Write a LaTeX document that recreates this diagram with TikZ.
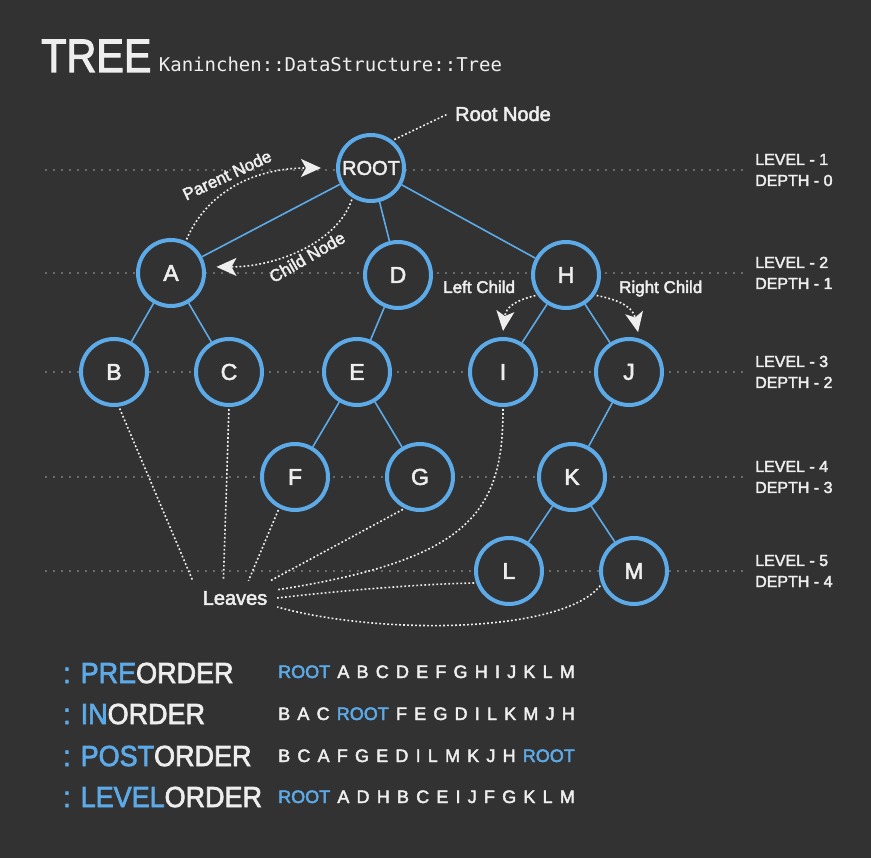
\documentclass[tikz,border=0pt]{standalone}
\usepackage{fontspec}
\setmainfont{Liberation Sans}[FakeBold=2.5]
\newfontfamily\codefont{DejaVu Sans Mono}
\usetikzlibrary{positioning, arrows.meta, calc}

\definecolor{board}{HTML}{323232}
\definecolor{treeblue}{HTML}{5DAAE8}
\definecolor{chalk}{HTML}{EEEEEE}
\definecolor{guide}{HTML}{6A6A6A}

\newcommand{\wordgap}{\spaceskip=7.2pt plus 0pt minus 0pt\relax}
\newcommand{\ordertitle}[1]{\scalebox{0.93}[1]{\textcolor{treeblue}{: #1}ORDER}}

\begin{document}
\begin{tikzpicture}[
    x=1pt, y=-1pt,
    % ── node styles ─────────────────────────────────────────
    vertex/.style = { circle, draw=treeblue, line width=4pt, fill=board,
            minimum size=66pt, inner sep=0pt, text=chalk,
            font=\fontsize{23}{24}\selectfont, },
    tag/.style = {text=chalk, inner sep=0pt, font=\fontsize{17}{20}\selectfont},
    levelinfo/.style = {text=chalk, inner sep=0pt, anchor=base west,
            font=\fontsize{16}{18}\selectfont},
    ordername/.style = {text=chalk, inner sep=0pt, anchor=base west,
            font=\fontsize{29}{30}\selectfont},
    orderseq/.style = {text=chalk, inner sep=0pt, anchor=base west,
            font=\fontsize{18}{20}\selectfont},
    % ── line styles ─────────────────────────────────────────
    branch/.style = {draw=treeblue, line width=1.6pt},
    hint/.style = {draw=chalk, line width=1.6pt, dash pattern=on 1.8pt off 2.2pt,
            shorten <=2pt},
    pointer/.style = {hint, -{Stealth[length=20pt, width=18pt, inset=5pt]}},
    levelline/.style = {draw=guide, line width=1.6pt, dash pattern=on 1.6pt off 6.4pt},
    ]

    \fill[board] (0,0) rectangle (871,858);
    \useasboundingbox (0,0) rectangle (871,858);

    % ============================================================
    % TITLE
    % ============================================================
    \node[text=chalk, inner sep=0pt, anchor=base west,
        font=\fontsize{47}{50}\selectfont]
    (title) at (41,72) {\scalebox{0.88}[1]{TREE}};
    \node[text=chalk, inner sep=0pt, right=7pt of title.base east, anchor=base west,
        font=\codefont\fontsize{19}{22}\selectfont]
    (subtitle) {Kaninchen::DataStructure::Tree};

    % ============================================================
    % LEVEL / DEPTH GUIDES
    % ============================================================
    \foreach \ly [count=\i] in {170,273,372,477,571} {
        \pgfmathtruncatemacro{\d}{\i-1}
        \draw[levelline] (45,\ly) -- (745,\ly);
        \node[levelinfo] (level-\i) at (755,\ly-5) {LEVEL - \i};
        \node[levelinfo] (depth-\i) at (755,\ly+16) {DEPTH - \d};
    }

    % ============================================================
    % TREE NODES
    % ============================================================
    \node[vertex, font=\fontsize{20}{22}\selectfont] (root) at (371,168) {ROOT};

    \node[vertex] (a) at (171,273) {A};
    \node[vertex] (d) at (398,275) {D};
    \node[vertex] (h) at (566,275) {H};

    \node[vertex] (b) at (114,372) {B};
    \node[vertex] (c) at (229,372) {C};
    \node[vertex] (e) at (357,372) {E};
    \node[vertex] (i) at (503,372) {I};
    \node[vertex] (j) at (629,372) {J};

    \node[vertex] (f) at (295,477) {F};
    \node[vertex] (g) at (420,477) {G};
    \node[vertex] (k) at (572,477) {K};

    \node[vertex] (l) at (509,571) {L};
    \node[vertex] (m) at (634,571) {M};

    \foreach \p/\c in {root/a, root/d, root/h, a/b, a/c, d/e, e/f, e/g,
            h/i, h/j, j/k, k/l, k/m}
    \draw[branch] (\p) -- (\c);

    % ============================================================
    % ANNOTATIONS
    % ============================================================
    \node[tag, inner xsep=7pt, anchor=base west, font=\fontsize{20}{22}\selectfont]
    (root-note) at (448,121) {Root Node};
    \draw[hint] (root.52) -- (root-note.west);

    % parent / child
    \draw[pointer]
    (a.65) .. controls +(20,-47) and +(-70,0) .. ([xshift=-15pt]root.west);
    \node[tag, rotate=25] (parent-tag) at (227,175) {Parent Node};

    \draw[pointer]
    (root.238) .. controls +(-15,45) and +(60,0) .. ([xshift=11pt]a.10);
    \node[tag, rotate=30] (child-tag) at (307,257) {Child Node};

    % left / right child
    \draw[pointer]
    (h.215) .. controls +(-20,5) and +(3,-25) .. ([yshift=6pt]i.north);
    \node[tag, anchor=base west] (left-tag) at (443,293) {Left Child};

    \draw[pointer]
    (h.-35) .. controls +(25,5) and +(-5,-25) .. ([yshift=6pt]j.75);
    \node[tag, anchor=base west] (right-tag) at (619,293) {Right Child};

    % leaves
    \node[text=chalk, inner sep=0pt, minimum width=84pt, minimum height=34pt,
        font=\fontsize{20}{22}\selectfont]
    (leaves) at (235,598) {Leaves};

    \draw[hint] (b.-82) -- (leaves.north west);
    \draw[hint] (c.-90) -- (leaves.124);
    \draw[hint] (f.-117) -- (leaves.52);
    \draw[hint] (g.-116) -- (leaves.26);
    \draw[hint] (i.-90) .. controls +(0,105) and +(193,-30) .. (leaves.11);
    \draw[hint] (l.200) .. controls +(-57,1) and +(60,-7) .. (leaves.east);
    \draw[hint] (m.202) .. controls +(-40,50) and +(100,28) .. (leaves.-12);

    % ============================================================
    % TRAVERSALS
    % ============================================================
    \node[ordername] (pre-name) at (63,683) {\ordertitle{PRE}};
    \node[orderseq] (pre-seq) at (278,678)
    {\wordgap\textcolor{treeblue}{ROOT} A B C D E F G H I J K L M};

    \node[ordername] (in-name) at (63,724) {\ordertitle{IN}};
    \node[orderseq] (in-seq) at (278,720)
    {\wordgap B A C \textcolor{treeblue}{ROOT} F E G D I L K M J H};

    \node[ordername] (post-name) at (63,766) {\ordertitle{POST}};
    \node[orderseq] (post-seq) at (278,762)
    {\wordgap B C A F G E D I L M K J H \textcolor{treeblue}{ROOT}};

    \node[ordername] (level-name) at (63,807) {\ordertitle{LEVEL}};
    \node[orderseq] (level-seq) at (278,803)
    {\wordgap\textcolor{treeblue}{ROOT} A D H B C E I J F G K L M};

\end{tikzpicture}
\end{document}
